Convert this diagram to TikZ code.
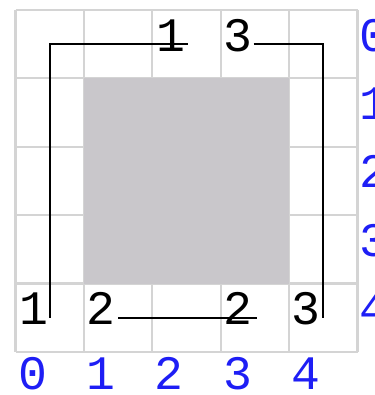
\documentclass[tikz,border=0pt]{standalone}
\usepackage{fontspec}
\newfontfamily\cellfont{Liberation Mono}
\definecolor{shadegray}{RGB}{201,199,203}
\definecolor{linegray}{RGB}{212,212,212}
\definecolor{indexblue}{RGB}{30,30,245}
\tikzset{
  cellnum/.style={font=\cellfont\fontsize{20}{20}\selectfont,text=black,anchor=base west,inner sep=0pt},
  idxnum/.style={font=\cellfont\fontsize{20}{20}\selectfont,text=indexblue,anchor=base west,inner sep=0pt},
  route/.style={draw=black,line width=0.8pt}
}
\begin{document}
\begin{tikzpicture}
\useasboundingbox (-0.227,0.146) rectangle (5.241,-5.629);
\draw[linegray,line width=0.9pt] (0,-5) grid (5,0);
\fill[shadegray] (1,-1) rectangle (4,-4);

% index labels
\foreach \i in {0,...,4} {
  \node[idxnum] (col\i) at (\i+0.03,-5.55) {\i};
  \node[idxnum] (row\i) at (5.02,-\i-0.6) {\i};
}

% clues
\node[cellnum] (c02) at (2.05,-0.6) {1};
\node[cellnum] (c03) at (3.03,-0.6) {3};
\node[cellnum] (c40) at (0.05,-4.6) {1};
\node[cellnum] (c41) at (1.03,-4.6) {2};
\node[cellnum] (c43) at (3.03,-4.6) {2};
\node[cellnum] (c44) at (4.03,-4.6) {3};

% route
\coordinate (p1) at (0.5,-4.5);
\coordinate (p2) at (0.5,-0.5);
\coordinate (p3) at (2.52,-0.5);
\coordinate (p4) at (3.48,-0.5);
\coordinate (p5) at (4.5,-0.5);
\coordinate (p6) at (4.5,-4.5);
\coordinate (p7) at (1.5,-4.5);
\coordinate (p8) at (3.53,-4.5);
\draw[route] (p1) -- (p2) -- (p3);
\draw[route] (p4) -- (p5) -- (p6);
\draw[route] (p7) -- (p8);
\end{tikzpicture}
\end{document}
